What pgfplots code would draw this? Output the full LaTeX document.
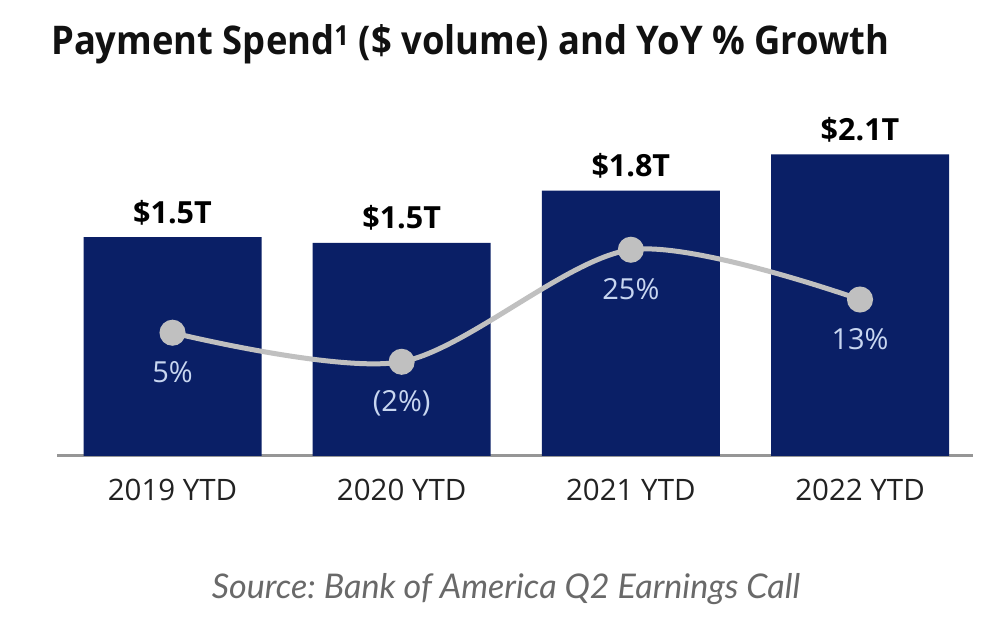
\documentclass[border=0pt]{standalone}
\usepackage{pgfplots}
\pgfplotsset{compat=1.18}
\usepackage{fontspec}
\setmainfont{Open Sans}
\newfontfamily\sourcefont{Lato}
\frenchspacing

\definecolor{navy}{RGB}{10,31,102}
\definecolor{linegray}{RGB}{192,192,192}
\definecolor{axisgray}{RGB}{150,150,150}
\definecolor{pctblue}{RGB}{200,214,240}
\definecolor{ticktext}{RGB}{34,34,34}
\definecolor{titletext}{RGB}{17,17,17}
\definecolor{sourcegray}{RGB}{105,105,105}

\begin{document}
\begin{tikzpicture}[x=1pt,y=1pt]
\path[use as bounding box] (0,0) rectangle (1006,623);
\fill[white] (0,0) rectangle (1006,623);

% Title (slightly condensed bold)
\node[anchor=base west, inner sep=0, text=titletext] at (51,568.7)
  {\resizebox{838pt}{\height}{\bfseries\fontsize{39.5}{42}\selectfont Payment Spend\textsuperscript{1} (\$ volume) and YoY \% Growth}};

% Payment volume bars (trillions of dollars)
\begin{axis}[
  at={(57pt,167pt)}, anchor=south west,
  scale only axis, width=916pt, height=356pt,
  xmin=-0.504, xmax=3.493, ymin=0, ymax=2.4552,
  axis x line=bottom, axis y line=none,
  x axis line style={line width=3pt, color=axisgray, -},
  xtick={0,1,2,3},
  xticklabels={2019 YTD,2020 YTD,2021 YTD,2022 YTD},
  major tick length=0pt,
  xticklabel style={font=\fontsize{29.5}{29.5}\selectfont, text=ticktext, anchor=base, yshift=-44.7pt, inner sep=0pt},
  ytick=\empty,
  clip=false,
]
\addplot[ybar, bar width=178pt, fill=navy, draw=none,
  nodes near coords, point meta=explicit symbolic,
  every node near coord/.append style={anchor=base, yshift=14pt, inner sep=0pt,
    font=\bfseries\fontsize{30.5}{30.5}\selectfont, text=black}]
  coordinates {(0,1.51)[\$1.5T] (1,1.47)[\$1.5T] (2,1.83)[\$1.8T] (3,2.08)[\$2.1T]};
\end{axis}

% Year-over-year growth (%)
\begin{axis}[
  at={(57pt,167pt)}, anchor=south west,
  scale only axis, width=916pt, height=356pt,
  xmin=-0.504, xmax=3.493, ymin=-24.70, ymax=61.08,
  axis lines=none, clip=false,
]
\addplot[smooth, line width=5pt, color=linegray,
  mark=*, mark size=10.5pt, mark options={fill=linegray, draw=none},
  nodes near coords, point meta=explicit symbolic,
  every node near coord/.append style={anchor=base, yshift=-50pt, inner sep=0pt,
    font=\fontsize{29}{29}\selectfont, text=pctblue}]
  coordinates {(0,5)[5\%] (1,-2)[(2\%)] (2,25)[25\%] (3,13)[13\%]};
\end{axis}

% Source line
\node[anchor=base, inner sep=0, text=sourcegray] at (506,24.7)
  {\resizebox{588pt}{\height}{\sourcefont\itshape\fontsize{34}{34}\selectfont Source: Bank of America Q2 Earnings Call}};
\end{tikzpicture}
\end{document}
